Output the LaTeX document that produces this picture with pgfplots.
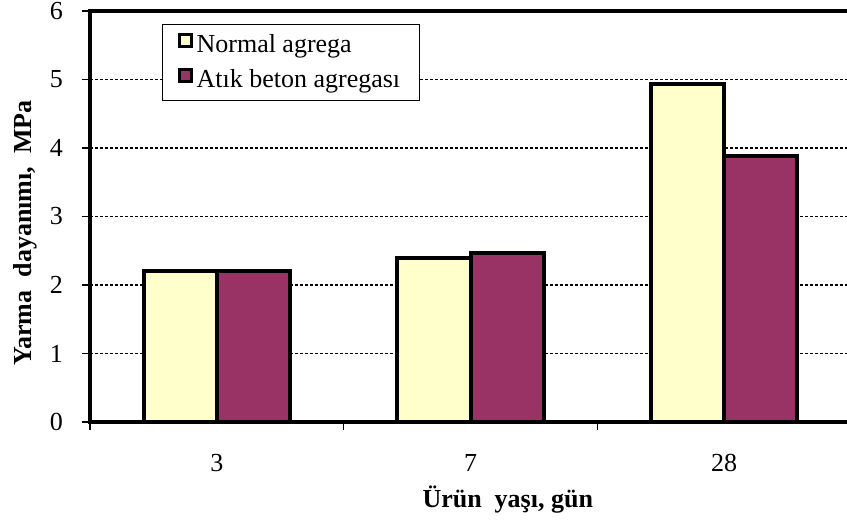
\documentclass[border=0pt]{standalone}
\usepackage{fontspec}
\setmainfont{Liberation Serif}
\usepackage{pgfplots}
\pgfplotsset{compat=1.18}
\definecolor{cream}{HTML}{FFFFCC}
\definecolor{plum}{HTML}{993366}
\begin{document}
\begin{tikzpicture}[font=\fontsize{13}{15.5}\selectfont]
\begin{axis}[
  at={(0,0)}, anchor=south west,
  scale only axis, width=380.5pt, height=205.5pt,
  xmin=-0.5, xmax=2.5, ymin=0, ymax=6,
  ybar=0pt, bar width=0.288,
  xtick={0,1,2}, xticklabels={3,7,28},
  minor xtick={-0.5,0.5,1.5,2.5},
  major x tick style={draw=none},
  minor x tick style={draw=black, line width=0.8pt},
  minor tick length=4pt,
  ytick={0,1,2,3,4,5,6},
  y tick style={draw=black, line width=0.8pt},
  major tick length=4pt,
  tick align=outside,
  xtick pos=bottom, ytick pos=left,
  /pgf/number format/assume math mode=true,
  xticklabel style={anchor=center, yshift=-16.5pt},
  yticklabel style={anchor=center, xshift=-12.75pt},
  ymajorgrids,
  grid style={black, line width=0.6pt, dash pattern=on 1.6pt off 0.9pt},
  axis line style={line width=2pt},
  xlabel={\bfseries Ürün\ \ yaşı, gün},
  ylabel={\bfseries Yarma\ \ dayanımı,\ \ MPa},
  xlabel style={at={(axis description cs:0.549,-0.1875)}, anchor=center},
  ylabel style={at={(axis description cs:-0.0854,0.46)}, anchor=center},
  legend style={at={(axis description cs:0.0946,0.968)}, anchor=north west,
    draw=black, line width=0.6pt, font=\fontsize{13}{15.5}\selectfont,
    cells={anchor=west}, row sep=3pt, inner xsep=7.5pt, inner ysep=3pt},
  legend image code/.code={\draw[#1, draw=black, line width=1.5pt] (0pt,-0.5pt) rectangle (6pt,5.5pt);},
]
\addplot[fill=cream, draw=black, line width=2pt] coordinates {(0,2.2) (1,2.4) (2,4.93)};
\addplot[fill=plum, draw=black, line width=2pt] coordinates {(0,2.2) (1,2.46) (2,3.88)};
\legend{Normal agrega, Atık beton agregası}
\end{axis}
\pgfresetboundingbox
\useasboundingbox (-45pt,-49.5pt) rectangle (378.5pt,211pt);
\end{tikzpicture}
\end{document}
